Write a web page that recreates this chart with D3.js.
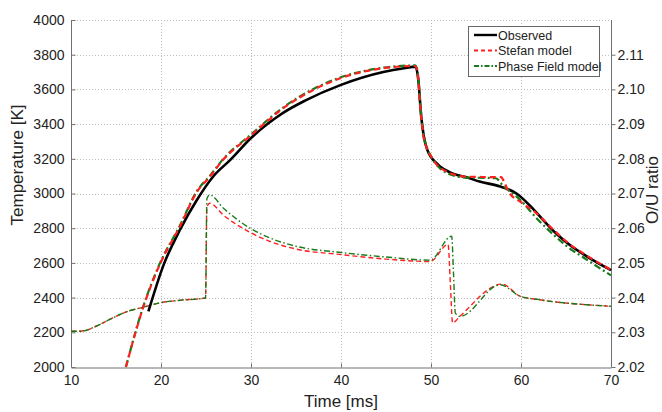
<!DOCTYPE html>
<html><head><meta charset="utf-8">
<script src="https://cdn.jsdelivr.net/npm/d3@7/dist/d3.min.js"></script>
<style>
body{margin:0;background:#fff;}
text{font-family:"Liberation Sans",Arial,sans-serif;fill:#222;}
</style></head><body>
<svg id="c" width="662" height="412"></svg>
<script>
// ---- data (time in ms) ----
const tempTicks = [2000,2200,2400,2600,2800,3000,3200,3400,3600,3800,4000];
const ratioTicks = [2.02,2.03,2.04,2.05,2.06,2.07,2.08,2.09,2.10,2.11];
const timeTicks = [10,20,30,40,50,60,70];

const obsT_t = [18.6,20.3,22.1,24.0,25.8,27.7,30.0,33.6,36.0,40.0,44.7,47.0,48.3,48.6,48.9,49.2,49.6,50.0,50.5,51.0,52.0,53.0,54.0,55.4,57.7,59.5,61.0,62.5,64.0,65.5,67.3,70.0];
const obsT_v = [2320,2590,2790,2964,3098,3194,3320,3466,3535,3626,3700,3722,3731,3650,3450,3330,3250,3210,3180,3156,3125,3105,3092,3069,3040,3000,2930,2845,2765,2700,2638,2558];

const stefT_t = [16.1,18.0,19.9,22.1,24.0,25.4,26.9,30.0,33.6,37.3,40.0,44.7,48.2,48.5,48.8,49.1,49.5,50.0,50.5,51.0,52.0,53.0,54.0,56.0,57.8,58.1,58.6,60.0,61.7,63.6,65.0,67.3,70.0];
const stefT_v = [2000,2340,2595,2810,3010,3095,3194,3335,3492,3607,3666,3722,3735,3700,3500,3350,3265,3215,3175,3150,3120,3103,3097,3095,3094,3070,3012,2950,2887,2791,2725,2642,2560];

const pfT_t = [16.1,18.0,19.9,22.1,24.0,25.4,26.9,30.0,33.6,37.3,40.0,44.7,48.2,48.5,48.8,49.1,49.5,50.0,50.5,51.0,52.0,53.0,54.0,56.0,57.2,58.0,59.9,61.7,63.6,65.0,67.3,70.0];
const pfT_v = [2000,2345,2600,2815,3015,3100,3198,3340,3497,3612,3670,3725,3738,3710,3520,3360,3270,3215,3172,3145,3112,3097,3092,3090,3088,3045,2964,2859,2763,2700,2619,2528];

const stefR_t = [10,11,11.7,13,14.3,15.5,16.5,18,19.9,22,24.95,25.1,25.4,27,29.9,32,35,40,45,49.9,51.9,52.15,52.4,53.2,57.9,59.9,62,64.7,67,70];
const stefR_v = [2.0303,2.0303,2.0306,2.0320,2.0337,2.0352,2.0362,2.0372,2.0385,2.0392,2.0399,2.0660,2.0672,2.0636,2.0588,2.0563,2.0540,2.0524,2.0511,2.0504,2.0553,2.0440,2.0327,2.0346,2.0439,2.0404,2.0394,2.0385,2.0380,2.0375];

const pfR_t = [10,11,11.7,13,14.3,15.5,16.5,18,19.9,22,24.95,25.1,25.4,27,29.9,32,35,40,45,49.9,52.3,52.5,52.7,53.2,57.7,59.9,62,64.7,67,70];
const pfR_v = [2.0303,2.0303,2.0306,2.0320,2.0337,2.0352,2.0362,2.0372,2.0385,2.0392,2.0399,2.0685,2.0696,2.0656,2.0600,2.0573,2.0548,2.0530,2.0517,2.0508,2.0577,2.0470,2.0356,2.0346,2.0437,2.0404,2.0394,2.0385,2.0380,2.0375];

const legendLabels = ["Observed","Stefan model","Phase Field model"];

// ---- layout ----
const L = 71, R = 611, T = 20, B = 367;
const svg = d3.select("#c");
const x = d3.scaleLinear().domain([10,70]).range([L,R]);
const yT = d3.scaleLinear().domain([2000,4000]).range([B,T]);
const yR = d3.scaleLinear().domain([2.02,2.12]).range([B,T]);

// grid
const grid = svg.append("g").attr("stroke","#bdbdbd").attr("stroke-width",1).attr("stroke-dasharray","1,2");
timeTicks.slice(1,-1).forEach(t=>grid.append("line").attr("x1",x(t)+0.5).attr("x2",x(t)+0.5).attr("y1",T).attr("y2",B));
tempTicks.slice(1).forEach(v=>grid.append("line").attr("x1",L).attr("x2",R).attr("y1",Math.round(yT(v))+0.5).attr("y2",Math.round(yT(v))+0.5));

// axes
const axBottom = d3.axisBottom(x).tickValues(timeTicks).tickFormat(d3.format("d")).tickSizeInner(-4).tickSizeOuter(0).tickPadding(8);
const gB = svg.append("g").attr("transform",`translate(0,${B+0.5})`).call(axBottom);
const axLeft = d3.axisLeft(yT).tickValues(tempTicks).tickFormat(d3.format("d")).tickSizeInner(-4).tickSizeOuter(0).tickPadding(7);
const gL = svg.append("g").attr("transform",`translate(${L+0.5},0)`).call(axLeft);
const axRight = d3.axisRight(yR).tickValues(ratioTicks).tickFormat(d3.format(".2f")).tickSizeInner(4).tickSizeOuter(0).tickPadding(2);
const gR = svg.append("g").attr("transform",`translate(${R+0.5},0)`).call(axRight);
[gB,gL,gR].forEach(g=>{
  g.select(".domain").attr("stroke","#707070");
  g.selectAll(".tick line").attr("stroke","#707070");
  g.selectAll("text").attr("font-size",14).attr("fill","#222").style("font-family",'"Liberation Sans",Arial,sans-serif');
});
gL.select(".domain").attr("d",`M0,${B}V${T}`);
gR.select(".domain").attr("d",`M0,${B}V${T}`);

// axis titles
svg.append("text").attr("x",(L+R)/2).attr("y",407).attr("text-anchor","middle").attr("font-size",17).text("Time [ms]");
svg.append("text").attr("transform",`translate(23,165) rotate(-90)`).attr("text-anchor","middle").attr("font-size",17).text("Temperature [K]");
svg.append("text").attr("transform",`translate(658,190) rotate(-90)`).attr("text-anchor","middle").attr("font-size",17).text("O/U ratio");

// lines
const lineT = d3.line().x(d=>x(d[0])).y(d=>yT(d[1])).curve(d3.curveMonotoneX);
const lineR = d3.line().x(d=>x(d[0])).y(d=>yR(d[1])).curve(d3.curveMonotoneX);
const zip = (a,b)=>a.map((v,i)=>[v,b[i]]);
const plot = svg.append("g").attr("fill","none");

plot.append("path").datum(zip(stefR_t,stefR_v)).attr("d",lineR).attr("stroke","#ff2020").attr("stroke-width",1.4).attr("stroke-dasharray","5,3");
plot.append("path").datum(zip(pfR_t,pfR_v)).attr("d",lineR).attr("stroke","#1a7a1a").attr("stroke-width",1.4).attr("stroke-dasharray","6,2.5,1.5,2.5");
plot.append("path").datum(zip(obsT_t,obsT_v)).attr("d",lineT).attr("stroke","#000").attr("stroke-width",2.6);
plot.append("path").datum(zip(pfT_t,pfT_v)).attr("d",lineT).attr("stroke","#1a7a1a").attr("stroke-width",2.2).attr("stroke-dasharray","7,3,2,3");
plot.append("path").datum(zip(stefT_t,stefT_v)).attr("d",lineT).attr("stroke","#ff2020").attr("stroke-width",2.2).attr("stroke-dasharray","6,4");

// legend
const lg = svg.append("g");
lg.append("rect").attr("x",468.5).attr("y",26.5).attr("width",131).attr("height",50).attr("fill","#fff").attr("stroke","#666");
const styles = [
  {c:"#000",w:2.4,d:null},
  {c:"#ff2020",w:2.2,d:"4,3"},
  {c:"#1a7a1a",w:2.2,d:"5,2,1.5,2"}
];
legendLabels.forEach((lab,i)=>{
  const yy = 35 + i*15.5;
  lg.append("line").attr("x1",474).attr("x2",497).attr("y1",yy).attr("y2",yy).attr("stroke",styles[i].c).attr("stroke-width",styles[i].w).attr("stroke-dasharray",styles[i].d);
  lg.append("text").attr("x",498).attr("y",yy+4.5).attr("font-size",12.5).text(lab);
});
</script></body></html>
